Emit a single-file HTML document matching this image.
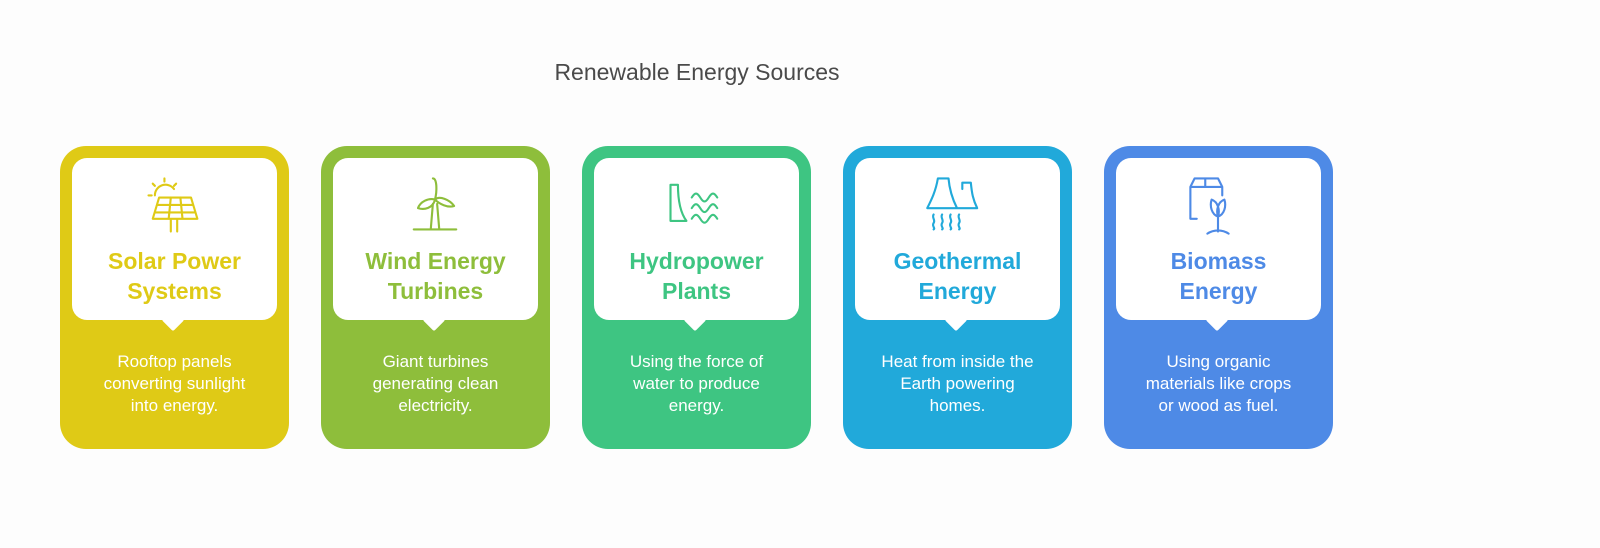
<!DOCTYPE html>
<html><head><meta charset="utf-8"><style>
body{margin:0;width:1600px;height:548px;background:#fdfdfd;font-family:"Liberation Sans",sans-serif;position:relative;overflow:hidden}
.t{position:absolute;left:447px;width:500px;top:59px;text-align:center;font-size:23px;color:#4a4a4a}
.c{position:absolute;top:146px;width:229px;height:303px;border-radius:26px}
.w{position:absolute;left:12px;top:12px;width:205px;height:162px;background:#fff;border-radius:15px}
.p{position:absolute;left:105px;top:166px;width:16px;height:16px;background:#fff;transform:rotate(45deg);border-radius:2px}
.h{position:absolute;left:0;top:88px;width:205px;text-align:center;font-weight:bold;font-size:23px;line-height:30px}
.d{position:absolute;left:10px;width:209px;top:205px;text-align:center;color:#fff;font-size:17px;line-height:22px}
svg{position:absolute;left:68px;top:14px;width:68px;height:68px;fill:none;stroke-width:2;stroke-linecap:round;stroke-linejoin:round}
</style></head><body>
<div class="t">Renewable Energy Sources</div>

<div class="c" style="left:60px;background:#dfca16"><div class="p"></div><div class="w">
<svg viewBox="0 0 64 64" stroke="#dfca16"><path d="M14 22a10 10 0 0 1 18-6M23 6v3M12 11l2 2M34 11l-2 2M8 22h3"/><path d="M18 24h30l6 20H12z M16 31h34 M14 38h38 M29 24l-2 20 M38 24l2 20 M29 44v12 M35 44v12"/></svg>
<div class="h" style="color:#dfca16">Solar Power<br>Systems</div></div>
<div class="d">Rooftop panels<br>converting sunlight<br>into energy.</div></div>

<div class="c" style="left:321px;background:#8ebe3b"><div class="p"></div><div class="w">
<svg viewBox="0 0 64 64" stroke="#8ebe3b"><path d="M30 6c4 0 4 12 2 20M32 26c4-4 14 0 18 6c-6 2-14-2-18-6M32 26c-6-2-14 2-16 8c6 2 14 0 16-8M30 30l-2 24M34 30l2 24M12 54h40"/></svg>
<div class="h" style="color:#8ebe3b">Wind Energy<br>Turbines</div></div>
<div class="d">Giant turbines<br>generating clean<br>electricity.</div></div>

<div class="c" style="left:582px;background:#3ec582"><div class="p"></div><div class="w">
<svg viewBox="0 0 64 64" stroke="#3ec582"><path d="M8 12h7c0 14 2 26 8 34H8z M28 24c3-5 5-5 8 0c3 5 5 5 8 0c3-5 5-5 8 0 M28 34c3-5 5-5 8 0c3 5 5 5 8 0c3-5 5-5 8 0 M28 44c3-5 5-5 8 0c3 5 5 5 8 0c3-5 5-5 8 0"/></svg>
<div class="h" style="color:#3ec582">Hydropower<br>Plants</div></div>
<div class="d">Using the force of<br>water to produce<br>energy.</div></div>

<div class="c" style="left:843px;background:#21a9da"><div class="p"></div><div class="w">
<svg viewBox="0 0 64 64" stroke="#21a9da"><path d="M14 6h10c1 12 4 20 8 28H4c4-8 8-16 10-28z M37 16v-6h8c1 10 2 16 6 24H32 M10 40c-2 3 2 5 0 8c-2 3 2 5 0 6 M18 40c-2 3 2 5 0 8c-2 3 2 5 0 6 M26 40c-2 3 2 5 0 8c-2 3 2 5 0 6 M34 40c-2 3 2 5 0 8c-2 3 2 5 0 6"/></svg>
<div class="h" style="color:#21a9da">Geothermal<br>Energy</div></div>
<div class="d">Heat from inside the<br>Earth powering<br>homes.</div></div>

<div class="c" style="left:1104px;background:#4e8ae6"><div class="p"></div><div class="w">
<svg viewBox="0 0 64 64" stroke="#4e8ae6"><path d="M12 44H6V14h30v8 M6 14l4-8h22l4 8 M20 6v8 M32 42v14 M32 42c-6-2-8-10-6-16c6 2 8 10 6 16 M32 42c6-2 8-10 6-16c-6 2-8 10-6 16 M22 58c6-4 14-4 20 0"/></svg>
<div class="h" style="color:#4e8ae6">Biomass<br>Energy</div></div>
<div class="d">Using organic<br>materials like crops<br>or wood as fuel.</div></div>
</body></html>
